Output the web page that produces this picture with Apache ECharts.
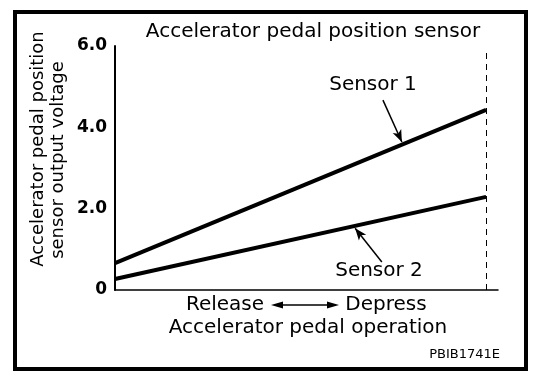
<!DOCTYPE html>
<html>
<head>
<meta charset="utf-8">
<script src="https://cdn.jsdelivr.net/npm/echarts@6/dist/echarts.min.js"></script>
<style>
  html, body { margin: 0; padding: 0; background: #fff; }
  #chart { width: 544px; height: 382px; }
</style>
</head>
<body>
<div id="chart"></div>
<script>
// ---- data ----
const pedalTravel = [0, 100];          // Release -> Depress (relative)
const sensor1 = [0.66, 4.43];          // V
const sensor2 = [0.27, 2.29];          // V
const yTickValues = [0, 2, 4, 6];
const yTickLabels = ['0', '2.0', '4.0', '6.0'];
const fullTravel = 100;                // dashed line position
const arrowSensor1 = [[72.2, 4.67], [77.3, 3.64]];
const arrowSensor2 = [[71.9, 0.69], [64.7, 1.52]];
const titleText = 'Accelerator pedal position sensor';
const yNameLines = ['Accelerator pedal position', 'sensor output voltage'];
const xNameText = 'Accelerator pedal operation';
const releaseText = 'Release';
const depressText = 'Depress';
const codeText = 'PBIB1741E';

const FONT = '"DejaVu Sans", sans-serif';

const chart = echarts.init(document.getElementById('chart'), null, { renderer: 'canvas' });

function arrowLine(pts) {
  return [
    { coord: pts[0], symbol: 'none' },
    { coord: pts[1], symbol: 'arrow', symbolSize: [7, 12] }
  ];
}

const option = {
  animation: false,
  backgroundColor: '#fff',
  grid: { left: 115, top: 46, right: 46, bottom: 92, containLabel: false },
  xAxis: {
    type: 'value',
    min: 0,
    max: 103.2,
    axisLine: { show: true, onZero: false, lineStyle: { color: '#000', width: 1.5 } },
    axisTick: { show: false },
    axisLabel: { show: false },
    splitLine: { show: false }
  },
  yAxis: {
    type: 'value',
    min: 0,
    max: 6,
    interval: 2,
    axisLine: { show: true, lineStyle: { color: '#000', width: 2 } },
    axisTick: { show: false },
    splitLine: { show: false },
    axisLabel: {
      margin: 8,
      color: '#000',
      fontFamily: 'DejaVu Sans',
      fontWeight: 'bold',
      fontSize: 17,
      formatter: function (v) {
        const i = yTickValues.indexOf(v);
        return i >= 0 ? yTickLabels[i] : '';
      }
    }
  },
  series: [
    {
      type: 'line',
      name: 'Sensor 1',
      data: pedalTravel.map((x, i) => [x, sensor1[i]]),
      symbol: 'none',
      lineStyle: { color: '#000', width: 4 },
      markLine: {
        silent: true,
        animation: false,
        label: { show: false },
        lineStyle: { color: '#000', width: 1.5, type: 'solid' },
        data: [
          arrowLine(arrowSensor1),
          [
            { coord: [fullTravel, 0], symbol: 'none', lineStyle: { color: '#000', width: 1, type: [6, 5] } },
            { coord: [fullTravel, 5.9], symbol: 'none' }
          ]
        ]
      }
    },
    {
      type: 'line',
      name: 'Sensor 2',
      data: pedalTravel.map((x, i) => [x, sensor2[i]]),
      symbol: 'none',
      lineStyle: { color: '#000', width: 4 },
      markLine: {
        silent: true,
        animation: false,
        label: { show: false },
        lineStyle: { color: '#000', width: 1.5, type: 'solid' },
        data: [arrowLine(arrowSensor2)]
      }
    }
  ],
  graphic: [
    {
      type: 'rect',
      shape: { x: 15, y: 12, width: 511, height: 357 },
      style: { fill: 'none', stroke: '#000', lineWidth: 4 },
      silent: true
    },
    {
      type: 'text', x: 313, y: 32,
      style: { text: titleText, font: '20px ' + FONT, fill: '#000', textAlign: 'center', textVerticalAlign: 'middle' }
    },
    {
      type: 'text', x: 38, y: 149, rotation: Math.PI / 2,
      style: { text: yNameLines[0], font: '18px ' + FONT, fill: '#000', textAlign: 'center', textVerticalAlign: 'middle' }
    },
    {
      type: 'text', x: 58, y: 160, rotation: Math.PI / 2,
      style: { text: yNameLines[1], font: '18px ' + FONT, fill: '#000', textAlign: 'center', textVerticalAlign: 'middle' }
    },
    {
      type: 'text', x: 373, y: 85,
      style: { text: 'Sensor 1', font: '20px ' + FONT, fill: '#000', textAlign: 'center', textVerticalAlign: 'middle' }
    },
    {
      type: 'text', x: 379, y: 271,
      style: { text: 'Sensor 2', font: '20px ' + FONT, fill: '#000', textAlign: 'center', textVerticalAlign: 'middle' }
    },
    {
      type: 'text', x: 225, y: 305,
      style: { text: releaseText, font: '20px ' + FONT, fill: '#000', textAlign: 'center', textVerticalAlign: 'middle' }
    },
    {
      type: 'text', x: 386, y: 305,
      style: { text: depressText, font: '20px ' + FONT, fill: '#000', textAlign: 'center', textVerticalAlign: 'middle' }
    },
    {
      type: 'line',
      shape: { x1: 278, y1: 305, x2: 332, y2: 305 },
      style: { stroke: '#000', lineWidth: 1.5 }
    },
    {
      type: 'polygon',
      shape: { points: [[271, 305], [283, 301.5], [283, 308.5]] },
      style: { fill: '#000' }
    },
    {
      type: 'polygon',
      shape: { points: [[339, 305], [327, 301.5], [327, 308.5]] },
      style: { fill: '#000' }
    },
    {
      type: 'text', x: 308, y: 328,
      style: { text: xNameText, font: '20px ' + FONT, fill: '#000', textAlign: 'center', textVerticalAlign: 'middle' }
    },
    {
      type: 'text', x: 500, y: 355,
      style: { text: codeText, font: '13px ' + FONT, fill: '#000', textAlign: 'right', textVerticalAlign: 'middle' }
    }
  ]
};

chart.setOption(option);
</script>
</body>
</html>
